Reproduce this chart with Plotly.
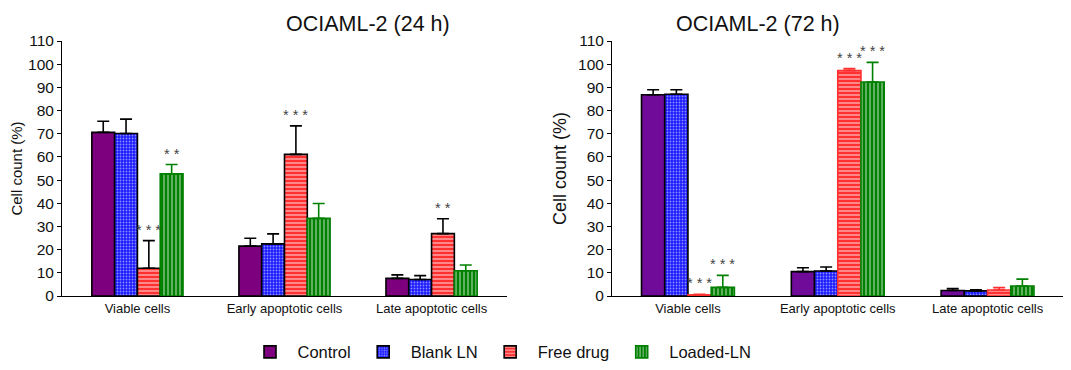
import plotly.graph_objects as go

categories = ["Viable cells", "Early apoptotic cells", "Late apoptotic cells"]
series_names = ["Control", "Blank LN", "Free drug", "Loaded-LN"]

# 24 h values (mean, upper error)
h24_control = [70.6, 21.5, 7.6]
h24_blank = [70.1, 22.5, 7.1]
h24_free = [12.0, 61.1, 26.9]
h24_loaded = [52.7, 33.5, 10.9]
h24_control_err = [4.8, 3.4, 1.5]
h24_blank_err = [6.2, 4.3, 1.7]
h24_free_err = [11.9, 12.3, 6.4]
h24_loaded_err = [4.0, 6.4, 2.5]

# 72 h values
h72_control = [86.8, 10.5, 2.4]
h72_blank = [87.0, 10.8, 2.2]
h72_free = [0.5, 97.2, 2.6]
h72_loaded = [3.7, 92.3, 4.3]
h72_control_err = [2.2, 1.7, 0.8]
h72_blank_err = [2.0, 1.7, 0.5]
h72_free_err = [0.2, 0.9, 1.0]
h72_loaded_err = [5.2, 8.5, 3.0]

# significance labels: (category index, series index, text)
h24_stars = [(0, 2, "* * *"), (0, 3, "* *"), (1, 2, "* * *"), (2, 2, "* *")]
h72_stars = [(0, 2, "* * *"), (0, 3, "* * *"), (1, 2, "* * *"), (1, 3, "* * *")]

FONT = "Liberation Sans, Arial, sans-serif"
BARGAP = 0.38
W, H = 1063, 362  # page body has an 8px margin

styles = [
    dict(color="#7d007f", pattern=None, line="#000000", err="#000000"),
    dict(color="#1a1aff", pattern=dict(shape=".", fgcolor="#ffffff", bgcolor="#1a1aff", size=3, solidity=0.3), line="#000000", err="#000000"),
    dict(color="#ff3030", pattern=dict(shape="-", fgcolor="#ffffff", bgcolor="#ff3030", size=4, solidity=0.42), line="#000000", err="#000000"),
    dict(color="#008000", pattern=dict(shape="|", fgcolor="#ffffff", bgcolor="#008000", size=4, solidity=0.38), line="#008000", err="#008000"),
]

panels = [
    ("x", "y", [h24_control, h24_blank, h24_free, h24_loaded],
     [h24_control_err, h24_blank_err, h24_free_err, h24_loaded_err], True, None, "#7d007f"),
    ("x2", "y2", [h72_control, h72_blank, h72_free, h72_loaded],
     [h72_control_err, h72_blank_err, h72_free_err, h72_loaded_err], False, "#ff3030", "#700a99"),
]

fig = go.Figure()
xs = list(range(len(categories)))
for xa, ya, vals, errs, showleg, free_line, purple in panels:
    for i, name in enumerate(series_names):
        st = styles[i]
        line_col = st["line"]
        err_col = st["err"]
        color = purple if i == 0 else st["color"]
        if i == 2 and free_line:
            line_col = free_line
            err_col = free_line
        marker = dict(color=color, line=dict(color=line_col, width=1.6))
        if st["pattern"]:
            marker["pattern"] = st["pattern"]
        fig.add_trace(go.Bar(
            x=xs, y=vals[i], name=name, xaxis=xa, yaxis=ya,
            marker=marker, showlegend=showleg, legendgroup=name,
            error_y=dict(type="data", array=errs[i], arrayminus=[0] * len(xs),
                         symmetric=False, color=err_col, thickness=1.6, width=6),
        ))

w = (1 - BARGAP) / 4
for (xa, ya, vals, errs, *_), stars in zip(panels, [h24_stars, h72_stars]):
    for ci, si, txt in stars:
        fig.add_annotation(
            x=ci + (si - 1.5) * w, y=vals[si][ci] + errs[si][ci],
            xref=xa, yref=ya, text=txt, showarrow=False,
            yanchor="bottom", yshift=1,
            font=dict(family=FONT, size=14.5, color="#444444"),
        )

axis_common = dict(showline=True, linecolor="#000000", linewidth=1, showgrid=False,
                   zeroline=False)
yaxis_common = dict(range=[0, 110], dtick=10, ticks="outside", ticklen=4,
                    tickcolor="#000000", tickfont=dict(size=15.5), automargin=False,
                    **axis_common)
fig.update_layout(
    width=W, height=H,
    margin=dict(l=0, r=0, t=33, b=74),
    paper_bgcolor="white", plot_bgcolor="white",
    barmode="group", bargap=BARGAP, bargroupgap=0,
    font=dict(family=FONT, color="#111111"),
    xaxis=dict(domain=[54 / W, 499 / W], range=[-0.513, 2.513],
               tickvals=xs, ticktext=categories, ticks="",
               tickfont=dict(size=13), anchor="y", **axis_common),
    xaxis2=dict(domain=[604 / W, 1.0], range=[-0.507, 2.557],
                tickvals=xs, ticktext=categories, ticks="",
                tickfont=dict(size=13), anchor="y2", **axis_common),
    yaxis=dict(anchor="x", title=dict(text="Cell count (%)", font=dict(size=15), standoff=8),
               **yaxis_common),
    yaxis2=dict(anchor="x2", title=dict(text="Cell count (%)", font=dict(size=18), standoff=6),
                **yaxis_common),
    legend=dict(orientation="h", x=0.5 - 40 / W, xanchor="center", y=-0.22,
                yanchor="middle", font=dict(size=16.5, color="#111111"), itemwidth=45,
                traceorder="normal"),
)
for txt, cx in [("OCIAML-2 (24 h)", (54 + 499) / 2 / W), ("OCIAML-2 (72 h)", 833 / W)]:
    fig.add_annotation(text=txt, x=cx, xref="paper", y=1, yref="paper",
                       yanchor="bottom", yshift=4, borderpad=0, showarrow=False,
                       font=dict(family=FONT, size=21.5, color="#111111"))

fig.write_html("out.html")
